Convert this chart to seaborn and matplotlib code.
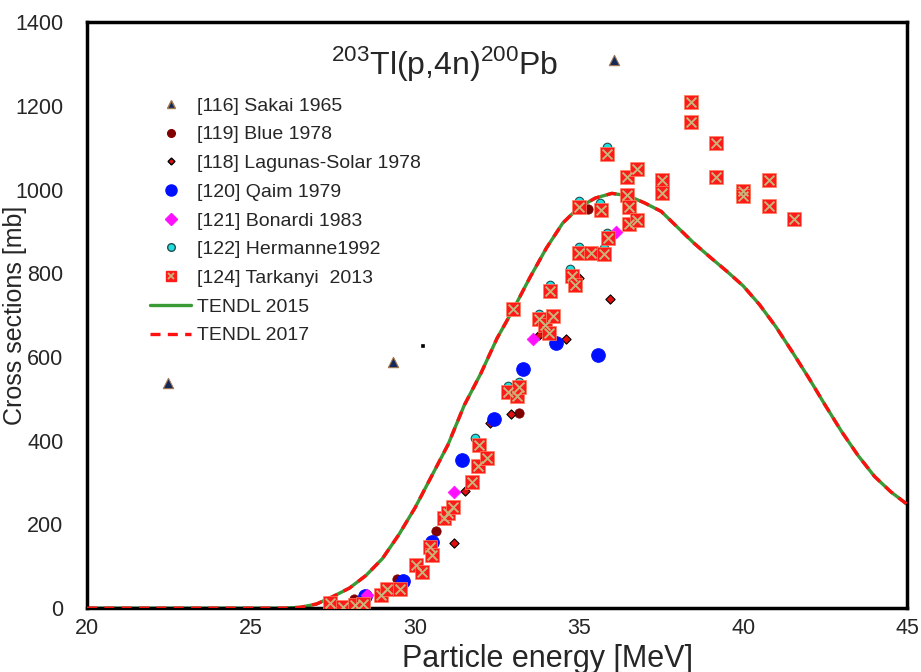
import numpy as np
import pandas as pd
import seaborn as sns
import matplotlib.pyplot as plt
from matplotlib.lines import Line2D

# --- data ---
sakai_e = [22.47, 29.33, 36.07]
sakai_cs = [537, 588, 1309]

other_e = [30.24]
other_cs = [626]

blue_e = [28.14, 29.45, 30.64, 33.17, 35.27]
blue_cs = [21, 69, 184, 466, 953]

lagunas_e = [31.19, 31.52, 32.29, 32.93, 33.78, 34.60, 35.00, 35.95]
lagunas_cs = [155, 280, 442, 463, 652, 643, 788, 738]

qaim_e = [28.48, 29.63, 30.52, 31.43, 32.41, 33.29, 34.30, 35.58]
qaim_cs = [29, 64, 158, 354, 452, 571, 633, 604]

bonardi_e = [28.54, 31.19, 33.60, 36.13]
bonardi_cs = [31, 277, 643, 898]

hermanne_e = [31.83, 32.84, 33.17, 33.78, 34.12, 34.73, 35.00, 35.00, 35.64, 35.76, 35.85, 35.85]
hermanne_cs = [406, 530, 540, 702, 772, 810, 862, 972, 968, 860, 896, 1101]

tarkanyi_e = [27.41, 27.80, 28.17, 28.41, 28.96, 29.15, 29.54, 30.03, 30.21, 30.46,
              30.52, 30.88, 31.00, 31.16, 31.74, 31.92, 31.95, 32.20, 32.84, 33.11,
              33.17, 32.99, 33.78, 33.96, 34.09, 34.20, 34.12, 34.79, 34.88, 35.00,
              35.37, 35.76, 35.88, 35.00, 35.67, 35.85, 36.46, 36.46, 36.52, 36.52,
              36.77, 36.77, 37.53, 37.53, 38.41, 38.41, 39.18, 39.18, 40.00, 40.00,
              40.79, 40.79, 41.55]
tarkanyi_cs = [12, 2, 7, 10, 31, 45, 45, 103, 86, 146,
               127, 215, 227, 241, 301, 339, 389, 358, 516, 506,
               528, 714, 690, 676, 657, 698, 757, 793, 772, 848,
               848, 846, 884, 958, 951, 1085, 1030, 987, 958, 917,
               1049, 927, 1022, 992, 1209, 1161, 1111, 1030, 996, 984,
               1022, 960, 929]

tendl_e = [20, 26, 26.5, 27, 27.5, 28, 28.5, 29, 29.5, 30, 30.5, 31, 31.5, 32, 32.5,
           33, 33.5, 34, 34.5, 35, 35.5, 36, 36.5, 37, 37.5, 38, 38.5, 39, 39.5, 40,
           40.5, 41, 41.5, 42, 42.5, 43, 43.5, 44, 44.5, 45]
tendl_cs = [0, 0, 2, 10, 28, 48, 78, 118, 175, 240, 315, 390, 485, 560, 645,
            715, 790, 860, 920, 958, 980, 991, 985, 968, 948, 910, 872, 838, 805, 770,
            725, 672, 612, 550, 485, 422, 365, 315, 278, 248]

tendl = pd.DataFrame({'E': tendl_e, 'cs': tendl_cs})

sns.set_style('white')
plt.rcParams['font.family'] = ['Liberation Sans', 'DejaVu Sans']
plt.rcParams['mathtext.fontset'] = 'custom'
plt.rcParams['mathtext.rm'] = 'Liberation Sans'

fig = plt.figure(figsize=(9.21, 6.72), dpi=100)
ax = fig.add_axes([0.0945, 0.095, 0.8905, 0.872])

# model curves
sns.lineplot(data=tendl, x='E', y='cs', ax=ax, color='#3a9a35', lw=2.4, zorder=2)
sns.lineplot(data=tendl, x='E', y='cs', ax=ax, color='#ff1010', lw=2.4, zorder=3)
ax.lines[-1].set_dashes([3, 2.2])

# experimental points
sns.scatterplot(x=other_e, y=other_cs, ax=ax, marker='s', color='black', s=10, zorder=4)
sns.scatterplot(x=sakai_e, y=sakai_cs, ax=ax, marker='^', color='#14285a',
                edgecolor='#a07850', linewidth=0.8, s=55, zorder=4)
sns.scatterplot(x=blue_e, y=blue_cs, ax=ax, marker='o', color='#800000',
                edgecolor='#800000', s=45, zorder=4)
sns.scatterplot(x=lagunas_e, y=lagunas_cs, ax=ax, marker='D', color='#e01010',
                edgecolor='black', linewidth=0.8, s=22, zorder=4)
sns.scatterplot(x=qaim_e, y=qaim_cs, ax=ax, marker='o', color='#0010ff',
                edgecolor='#0010ff', s=95, zorder=4)
sns.scatterplot(x=bonardi_e, y=bonardi_cs, ax=ax, marker='D', color='#ff10ff',
                edgecolor='#ff10ff', s=42, zorder=4)
sns.scatterplot(x=hermanne_e, y=hermanne_cs, ax=ax, marker='o', color='#20e0e0',
                edgecolor='#205050', linewidth=0.8, s=38, zorder=4)
sns.scatterplot(x=tarkanyi_e, y=tarkanyi_cs, ax=ax, marker='s', color='#ff1a1a',
                edgecolor='#ff8060', linewidth=0.5, s=90, zorder=5)
sns.scatterplot(x=tarkanyi_e, y=tarkanyi_cs, ax=ax, marker='x', color='#c8b47a',
                linewidth=1.4, s=50, zorder=6)

ax.set_xlim(20, 45)
ax.set_ylim(0, 1400)
ax.set_xticks([20, 25, 30, 35, 40, 45])
ax.set_yticks(range(0, 1401, 200))
ax.tick_params(direction='in', length=6, width=1.5, labelsize=15.5)
ax.tick_params(axis='x', pad=7)
ax.tick_params(axis='y', pad=17)
for sp in ax.spines.values():
    sp.set_linewidth(2.5)
    sp.set_color('black')
ax.set_xlabel('Particle energy [MeV]', fontsize=22, va='center')
ax.xaxis.set_label_coords(0.562, -0.086)
ax.set_ylabel('Cross sections [mb]', fontsize=18, va='center')
ax.yaxis.set_label_coords(-0.0875, 0.5)

ax.text(30.9, 1302, r'$^{203}$Tl(p,4n)$^{200}$Pb', fontsize=23,
        ha='center', va='center')

# legend
handles = [
    Line2D([], [], ls='', marker='^', color='#14285a', mec='#a07850', ms=6),
    Line2D([], [], ls='', marker='o', color='#800000', ms=5.5),
    Line2D([], [], ls='', marker='D', color='#e01010', mec='black', ms=3.5),
    Line2D([], [], ls='', marker='o', color='#0010ff', ms=8),
    Line2D([], [], ls='', marker='D', color='#ff10ff', ms=6),
    Line2D([], [], ls='', marker='o', color='#20e0e0', mec='#205050', ms=5.5),
    (Line2D([], [], ls='', marker='s', color='#ff1a1a', ms=7),
     Line2D([], [], ls='', marker='x', color='#c8b47a', mew=1.3, ms=5)),
    Line2D([], [], color='#3a9a35', lw=2.4),
    Line2D([], [], color='#ff1010', lw=2.4, dashes=[3, 2.2]),
]
labels = ['[116] Sakai 1965', '[119] Blue 1978', '[118] Lagunas-Solar 1978',
          '[120] Qaim 1979', '[121] Bonardi 1983', '[122] Hermanne1992',
          '[124] Tarkanyi  2013', 'TENDL 2015', 'TENDL 2017']
ax.legend(handles, labels, loc='upper left', bbox_to_anchor=(0.077, 0.872),
          frameon=False, fontsize=14, handlelength=2.1, handletextpad=0.3,
          labelspacing=0.57, borderpad=0, borderaxespad=0)

fig.savefig('out.png', dpi=100)
